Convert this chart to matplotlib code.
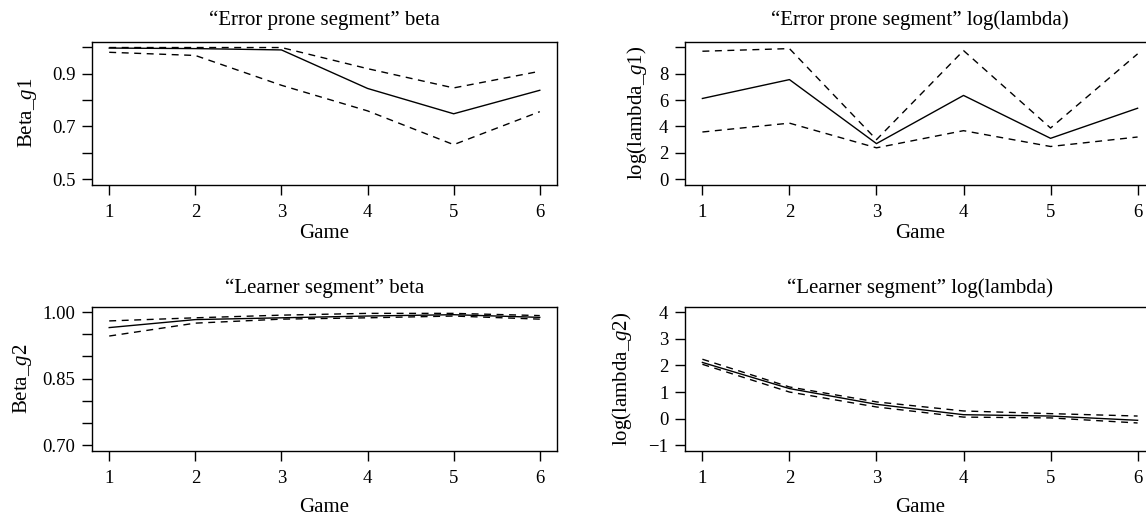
import matplotlib
matplotlib.use("Agg")
import matplotlib.pyplot as plt
from matplotlib.ticker import FixedLocator, FixedFormatter

plt.rcParams['font.family'] = ['Liberation Serif', 'DejaVu Serif']
plt.rcParams['mathtext.fontset'] = 'custom'
plt.rcParams['mathtext.rm'] = 'Liberation Serif'
plt.rcParams['mathtext.it'] = 'Liberation Serif:italic'

games = [1, 2, 3, 4, 5, 6]

# Error prone segment beta
beta1_mid = [0.997, 0.995, 0.990, 0.844, 0.748, 0.837]
beta1_hi = [0.999, 0.999, 0.999, 0.919, 0.846, 0.909]
beta1_lo = [0.981, 0.969, 0.856, 0.759, 0.631, 0.756]

# Error prone segment log(lambda)
lam1_mid = [6.12, 7.55, 2.70, 6.35, 3.10, 5.38]
lam1_hi = [9.70, 9.90, 3.00, 9.75, 3.88, 9.50]
lam1_lo = [3.58, 4.25, 2.38, 3.68, 2.48, 3.20]

# Learner segment beta
beta2_mid = [0.965, 0.983, 0.987, 0.991, 0.994, 0.988]
beta2_hi = [0.980, 0.987, 0.993, 0.997, 0.997, 0.992]
beta2_lo = [0.946, 0.975, 0.984, 0.987, 0.991, 0.984]

# Learner segment log(lambda)
lam2_mid = [2.11, 1.13, 0.54, 0.15, 0.10, -0.06]
lam2_hi = [2.23, 1.19, 0.63, 0.29, 0.19, 0.10]
lam2_lo = [2.04, 1.00, 0.44, 0.06, 0.03, -0.16]

titles = ['\u201cError prone segment\u201d beta',
          '\u201cError prone segment\u201d log(lambda)',
          '\u201cLearner segment\u201d beta',
          '\u201cLearner segment\u201d log(lambda)']
ylabels = ['Beta_$\\it{g}$1', 'log(lambda_$\\it{g}$1)',
           'Beta_$\\it{g}$2', 'log(lambda_$\\it{g}$2)']

yt1 = [0.5, 0.6, 0.7, 0.8, 0.9, 1.0]
yl1 = ['0.5', '', '0.7', '', '0.9', '']
yt2 = [0, 2, 4, 6, 8, 10]
yl2 = ['0', '2', '4', '6', '8', '']
yt3 = [0.70, 0.75, 0.80, 0.85, 0.90, 0.95, 1.00]
yl3 = ['0.70', '', '', '0.85', '', '', '1.00']
yt4 = [-1, 0, 1, 2, 3, 4]
yl4 = ['\u22121', '0', '1', '2', '3', '4']

W, H = 1146, 517
fig = plt.figure(figsize=(W / 100, H / 100), dpi=100)

def px_axes(x0, x1, y0, y1):
    return fig.add_axes([x0 / W, 1 - y1 / H, (x1 - x0) / W, (y1 - y0) / H])

axes = [px_axes(92, 557, 42, 184.5),
        px_axes(685, 1155, 42, 184.5),
        px_axes(92, 557, 306.7, 450.7),
        px_axes(685, 1155, 306.7, 450.7)]

series = [(beta1_mid, beta1_hi, beta1_lo, yt1, yl1),
          (lam1_mid, lam1_hi, lam1_lo, yt2, yl2),
          (beta2_mid, beta2_hi, beta2_lo, yt3, yl3),
          (lam2_mid, lam2_hi, lam2_lo, yt4, yl4)]
ylab_x = [-0.138, -0.102, -0.150, -0.134]
title_pad = [12, 12, 10, 10]
xlab_pad = [2, 2, 8, 8]
FS_TICK = 13.5
FS_LAB = 15

for i, ax in enumerate(axes):
    mid, hi, lo, yt, yl = series[i]
    ax.plot(games, mid, color='black', lw=1.0)
    ax.plot(games, hi, color='black', lw=1.0, dashes=(5, 4))
    ax.plot(games, lo, color='black', lw=1.0, dashes=(5, 4))
    span = yt[-1] - yt[0]
    ax.set_xlim(0.8, 6.2)
    ax.set_ylim(yt[0] - 0.04 * span, yt[-1] + 0.04 * span)
    ax.xaxis.set_major_locator(FixedLocator(games))
    ax.yaxis.set_major_locator(FixedLocator(yt))
    ax.yaxis.set_major_formatter(FixedFormatter(yl))
    ax.tick_params(axis='both', direction='out', length=7, width=1.0,
                   labelsize=FS_TICK, color='black')
    ax.tick_params(axis='x', pad=7)
    ax.tick_params(axis='y', pad=5)
    for s in ax.spines.values():
        s.set_linewidth(1.0)
    ax.set_title(titles[i], fontsize=FS_LAB, pad=title_pad[i])
    ax.set_xlabel('Game', fontsize=FS_LAB, labelpad=xlab_pad[i])
    ax.set_ylabel(ylabels[i], fontsize=FS_LAB, va='center')
    ax.yaxis.set_label_coords(ylab_x[i], 0.5)

fig.savefig('out.png', dpi=100)
